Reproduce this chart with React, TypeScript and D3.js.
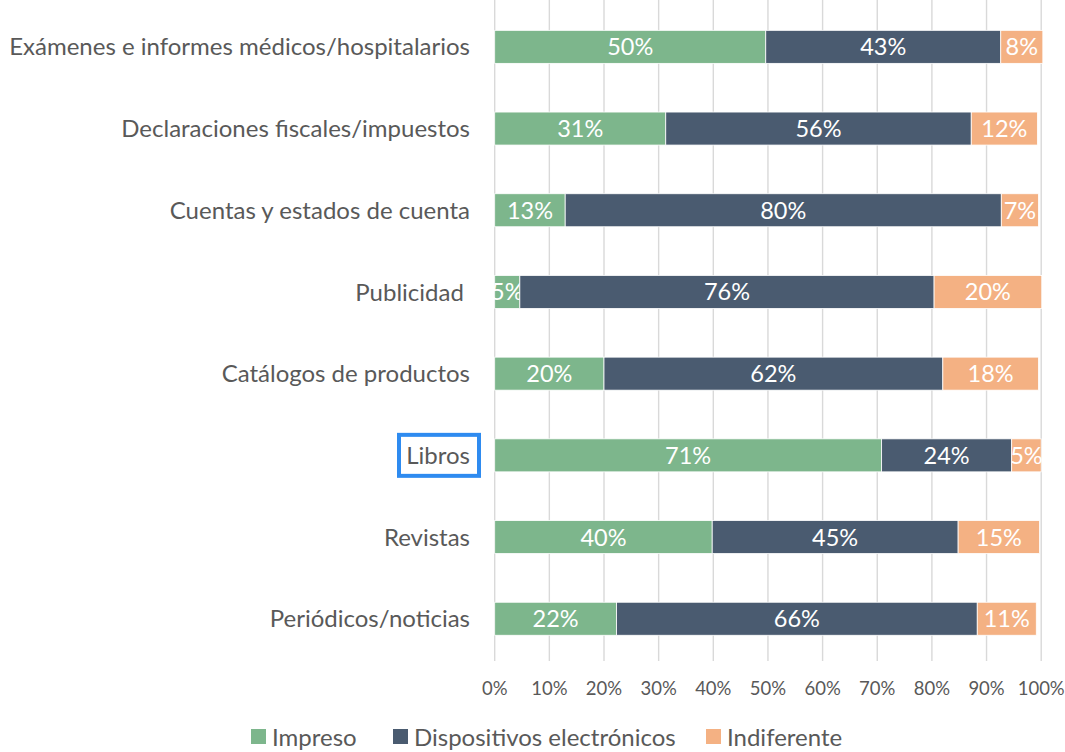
import React from "react";
import * as d3 from "d3";

const categories = [
  "Exámenes e informes médicos/hospitalarios",
  "Declaraciones fiscales/impuestos",
  "Cuentas y estados de cuenta",
  "Publicidad ",
  "Catálogos de productos",
  "Libros",
  "Revistas",
  "Periódicos/noticias",
];
const seriesNames = ["Impreso", "Dispositivos electrónicos", "Indiferente"];
const impreso = [49.6, 31.3, 12.9, 4.6, 20.0, 70.8, 39.8, 22.3];
const dispositivos = [43.0, 55.9, 79.8, 75.8, 62.0, 23.8, 45.0, 66.0];
const indiferente = [7.7, 12.1, 6.8, 19.7, 17.5, 5.4, 14.9, 10.8];
const xTicks = [0, 10, 20, 30, 40, 50, 60, 70, 80, 90, 100];
const highlighted = "Libros";

const COLORS = ["#7DB68C", "#4A5B70", "#F4B183"];
const FONT = "Lato, 'Open Sans', sans-serif";
const TEXT = "#595959";

export default function App() {
  const W = 1065, H = 752;
  const x = d3.scaleLinear().domain([0, 100]).range([494.7, 1041.2]);
  const y = d3
    .scaleBand<string>()
    .domain(categories)
    .range([6, 659.6])
    .paddingInner(0.596)
    .paddingOuter(0.298);

  const rows = categories.map((c, i) => ({
    cat: c,
    vals: [impreso[i], dispositivos[i], indiferente[i]],
  }));

  const legendX = [251, 393, 706];

  return (
    <svg width={W} height={H} style={{ position: "absolute", left: 0, top: 0, background: "#fff" }}>
      {/* gridlines */}
      {xTicks.map((t) => (
        <line key={t} x1={x(t)} x2={x(t)} y1={0} y2={661} stroke="#D9D9D9" strokeWidth={1.4} />
      ))}
      {/* bars */}
      {rows.map((r) => {
        let acc = 0;
        const y0 = y(r.cat)!;
        const bh = y.bandwidth();
        return (
          <g key={r.cat}>
            {r.vals.map((v, j) => {
              const xs = x(acc);
              acc += v;
              const xe = x(acc);
              return (
                <g key={j}>
                  <rect x={xs} y={y0} width={xe - xs} height={bh} fill={COLORS[j]} stroke="#fff" strokeWidth={0.8} />
                  <text
                    x={(xs + xe) / 2}
                    y={y0 + bh / 2}
                    dy="0.36em"
                    textAnchor="middle"
                    fill="#fff"
                    fontFamily={FONT}
                    fontSize={23.5}
                  >
                    {d3.format(".0f")(v) + "%"}
                  </text>
                </g>
              );
            })}
          </g>
        );
      })}
      {/* category labels */}
      {categories.map((c) => (
        <text
          key={c}
          x={470}
          y={y(c)! + y.bandwidth() / 2}
          dy="0.36em"
          textAnchor="end"
          fill={TEXT}
          fontFamily={FONT}
          fontSize={24}
          style={{ whiteSpace: "pre" }}
        >
          {c}
        </text>
      ))}
      {/* highlight box */}
      <rect
        x={399}
        y={y(highlighted)! + y.bandwidth() / 2 - 20.5}
        width={80}
        height={41}
        fill="none"
        stroke="#2E8BF0"
        strokeWidth={4}
      />
      {/* x tick labels */}
      {xTicks.map((t) => (
        <text
          key={t}
          x={x(t)}
          y={688}
          dy="0.36em"
          textAnchor="middle"
          fill={TEXT}
          fontFamily={FONT}
          fontSize={18.5}
        >
          {t + "%"}
        </text>
      ))}
      {/* legend */}
      {seriesNames.map((s, i) => (
        <g key={s} transform={`translate(${legendX[i]},737)`}>
          <rect x={0} y={-8} width={15} height={15} fill={COLORS[i]} />
          <text x={21} y={0} dy="0.36em" fill={TEXT} fontFamily={FONT} fontSize={24}>
            {s}
          </text>
        </g>
      ))}
    </svg>
  );
}
